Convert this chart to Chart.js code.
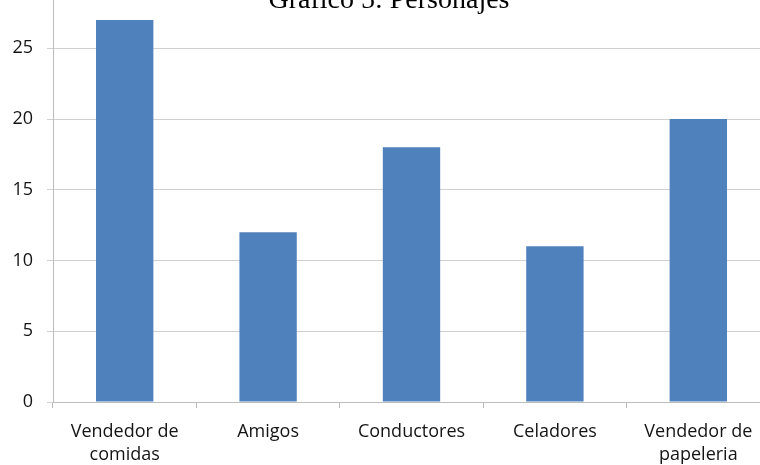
<!DOCTYPE html>
<html>
<head>
<meta charset="utf-8">
<script src="https://cdn.jsdelivr.net/npm/chart.js@4/dist/chart.umd.min.js"></script>
<style>
  html, body { margin: 0; padding: 0; background: #ffffff; overflow: hidden; width: 760px; height: 465px; }
  #wrap { position: absolute; left: 0; top: -48px; width: 778px; height: 513px; }
</style>
</head>
<body>
<div id="wrap"><canvas id="chart"></canvas></div>
<script>
// Gráfico 5: Personajes
const chartTitle = 'Gráfico 5: Personajes';
const categories = [
  ['Vendedor de', 'comidas'],
  'Amigos',
  'Conductores',
  'Celadores',
  ['Vendedor de', 'papeleria']
];
const counts = [27, 12, 18, 11, 20];
const yMin = 0;
const yMax = 30;
const yStep = 5;

// Title sits over the plot area, drawn after the chart itself
const overlayTitle = {
  id: 'overlayTitle',
  afterDraw(chart) {
    const ctx = chart.ctx;
    ctx.save();
    ctx.font = '28px "Liberation Serif", "Times New Roman", serif';
    ctx.fillStyle = '#000000';
    ctx.textAlign = 'center';
    ctx.textBaseline = 'alphabetic';
    ctx.fillText(chartTitle, 389, 56);
    ctx.restore();
  }
};

const tickFont = { family: '"Open Sans", "Noto Sans", sans-serif', size: 18, lineHeight: 23 / 18 };

new Chart(document.getElementById('chart'), {
  type: 'bar',
  data: {
    labels: categories,
    datasets: [{
      data: counts,
      backgroundColor: '#4f81bd',
      borderWidth: 0,
      barPercentage: 0.4,
      categoryPercentage: 1.0
    }]
  },
  options: {
    responsive: true,
    maintainAspectRatio: false,
    animation: false,
    layout: { padding: { top: 17, left: 0, right: 8, bottom: 0 } },
    plugins: {
      legend: { display: false },
      title: { display: false },
      tooltip: { enabled: false }
    },
    scales: {
      x: {
        offset: true,
        grid: {
          offset: true,
          drawOnChartArea: false,
          drawTicks: true,
          tickLength: 6,
          color: '#b8b8b8'
        },
        border: { display: true, color: '#bdbdbd', width: 1 },
        ticks: {
          font: tickFont,
          color: '#141414',
          padding: 12,
          maxRotation: 0,
          autoSkip: false
        },
        afterFit(scale) { scale.height = 63; }
      },
      y: {
        min: yMin,
        max: yMax,
        grid: {
          color: '#d0d0d0',
          tickLength: 6,
          drawTicks: true
        },
        border: { display: true, color: '#bdbdbd', width: 1 },
        ticks: {
          stepSize: yStep,
          font: tickFont,
          color: '#141414',
          padding: 14
        },
        afterFit(scale) { scale.width = 53; }
      }
    }
  },
  plugins: [overlayTitle]
});
</script>
</body>
</html>
